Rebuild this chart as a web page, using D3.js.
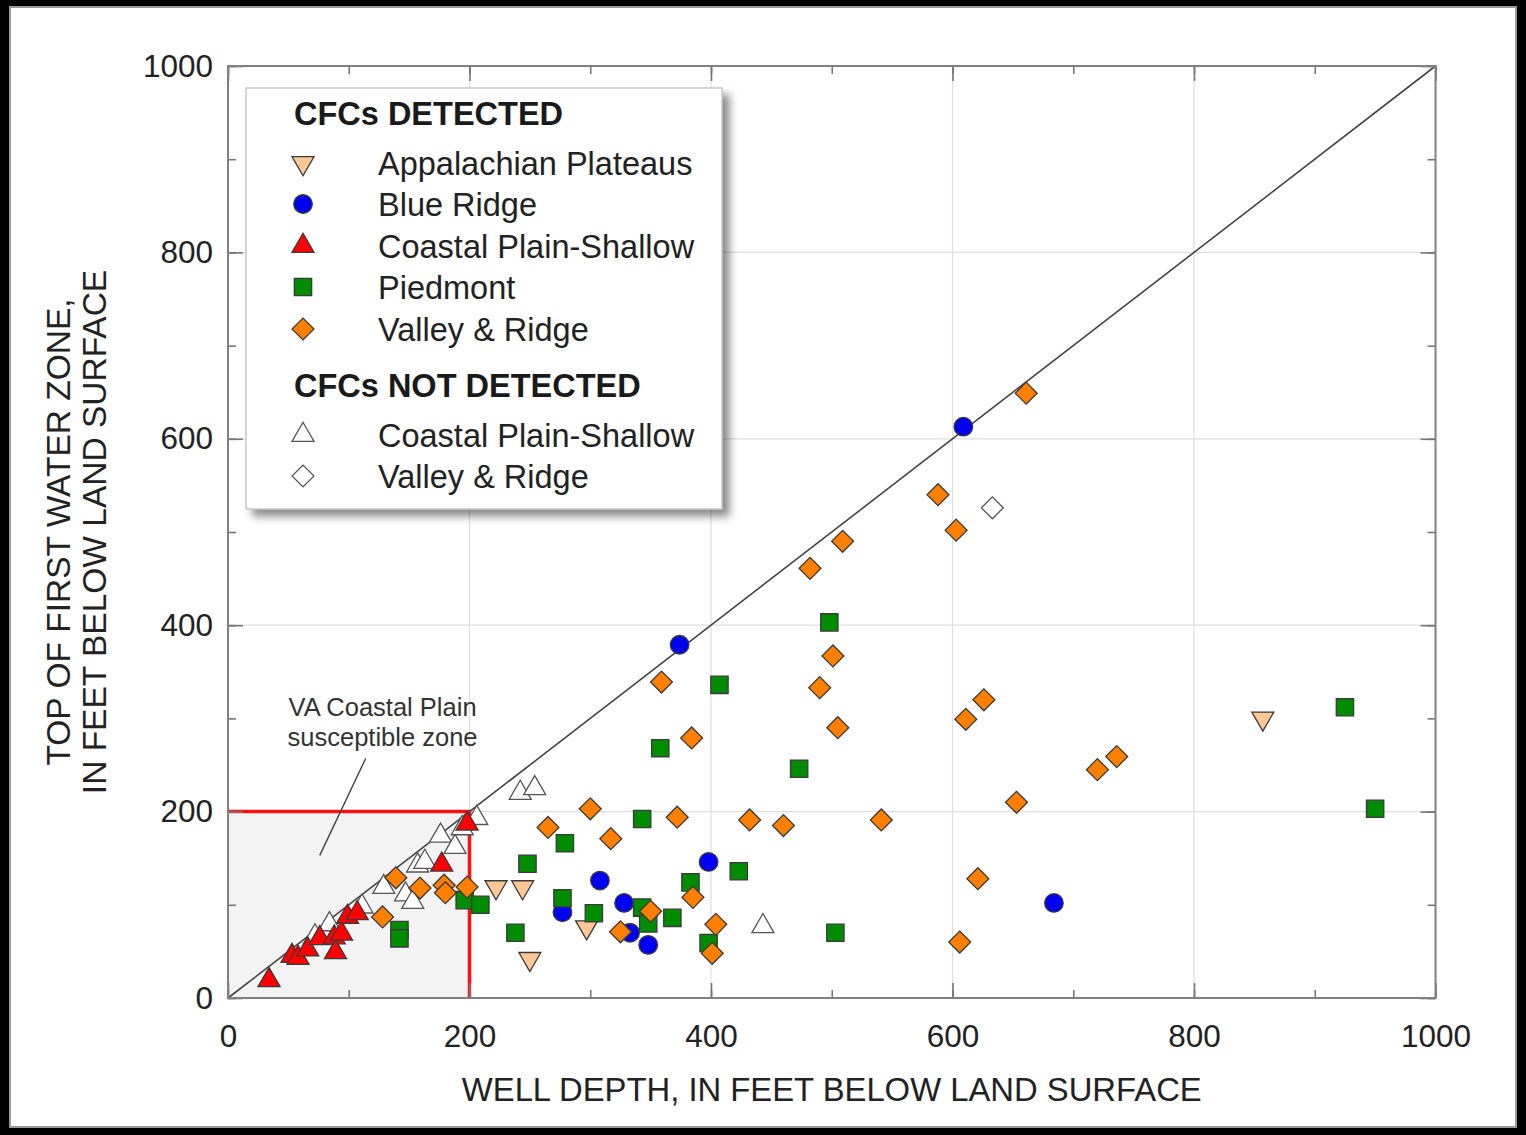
<!DOCTYPE html>
<html>
<head>
<meta charset="utf-8">
<script src="https://cdn.jsdelivr.net/npm/d3@7"></script>
<style>
  html, body { margin: 0; padding: 0; background: #000; }
  svg { display: block; font-family: "Liberation Sans", Arial, sans-serif; }
</style>
</head>
<body>
<svg id="chart"></svg>
<script>
// values: [well depth, top of first water zone]
var appalachian = [[222,119],[244,119],[297,76],[250,42],[857,300]];
var blueRidge = [[277,92],[308,126],[328,102],[333,70],[348,57],[374,379],[398,146],[609,613],[684,102]];
var coastalDet = [[34,19],[53,45],[58,43],[66,52],[76,64],[88,65],[89,49],[94,69],[99,87],[107,91],[177,143],[198,187]];
var piedmont = [[142,73],[142,64],[196,105],[209,100],[238,70],[248,144],[277,107],[279,166],[303,91],[343,192],[343,97],
                [348,80],[358,268],[368,86],[383,124],[398,59],[407,336],[423,136],[473,246],[498,403],[503,70],[925,312],[950,203]];
var valley = [[128,87],[139,129],[159,118],[179,121],[180,113],[198,119],[265,183],[300,203],[317,171],[325,71],[350,93],
              [359,339],[372,194],[384,279],[385,108],[401,48],[404,79],[432,191],[460,185],[482,461],[490,333],[501,367],
              [505,290],[509,490],[541,191],[588,540],[603,502],[606,60],[611,299],[621,128],[626,320],[653,210],[661,649],
              [720,245],[736,259]];
var coastalND = [[72,66],[84,79],[111,98],[129,119],[147,111],[153,103],[157,142],[163,146],[176,174],[188,162],
                 [194,182],[206,193],[242,220],[254,225],[443,77]];
var valleyND = [[633,526]];

var tickValues = [0,200,400,600,800,1000];
var zoneLimit = 200;

var W = 1526, H = 1135;
var margin = {top: 66, right: 90.5, bottom: 137, left: 228},
    width = W - margin.left - margin.right,
    height = H - margin.top - margin.bottom;

var svg = d3.select("#chart").attr("width", W).attr("height", H);

var defs = svg.append("defs");
var f = defs.append("filter").attr("id", "shadow")
    .attr("x", "-5%").attr("y", "-5%").attr("width", "115%").attr("height", "115%");
f.append("feDropShadow").attr("dx", 7).attr("dy", 7).attr("stdDeviation", 4)
    .attr("flood-color", "#000").attr("flood-opacity", 0.45);

// white panel
svg.append("rect").attr("x", 10).attr("y", 7).attr("width", 1506).attr("height", 1120)
    .attr("fill", "#fff").attr("stroke", "#9a9a9a").attr("stroke-width", 2);

var g = svg.append("g").attr("transform", "translate(" + margin.left + "," + margin.top + ")");

var x = d3.scaleLinear().domain([0, 1000]).range([0, width]);
var y = d3.scaleLinear().domain([0, 1000]).range([height, 0]);

// shaded susceptible zone
g.append("rect")
    .attr("x", x(0)).attr("y", y(zoneLimit))
    .attr("width", x(zoneLimit) - x(0)).attr("height", y(0) - y(zoneLimit))
    .attr("fill", "#f3f3f3");

// grid
g.append("g").selectAll("line").data(tickValues.slice(1, -1)).join("line")
    .attr("x1", d => x(d)).attr("x2", d => x(d)).attr("y1", 0).attr("y2", height)
    .attr("stroke", "#dedede").attr("stroke-width", 1.2);
g.append("g").selectAll("line").data(tickValues.slice(1, -1)).join("line")
    .attr("y1", d => y(d)).attr("y2", d => y(d)).attr("x1", 0).attr("x2", width)
    .attr("stroke", "#dedede").attr("stroke-width", 1.2);

// red zone outline
g.append("path")
    .attr("d", "M" + x(0) + "," + y(zoneLimit) + "H" + x(zoneLimit) + "V" + y(0))
    .attr("fill", "none").attr("stroke", "#ff1010").attr("stroke-width", 3.5);

// 1:1 line
g.append("line")
    .attr("x1", x(0)).attr("y1", y(0)).attr("x2", x(1000)).attr("y2", y(1000))
    .attr("stroke", "#444").attr("stroke-width", 1.6);

// axes with inward ticks
function styleAxis(sel) {
  sel.select(".domain").remove();
  sel.selectAll(".tick line").attr("stroke", "#777").attr("stroke-width", 1.6);
  sel.selectAll("text").attr("fill", "#222").style("font-size", "31.5px");
}
var fmt = d3.format("d");
var minor = d3.range(0, 1001, 100);
g.append("g").attr("transform", "translate(0," + height + ")")
    .call(d3.axisBottom(x).tickValues(minor).tickSize(-8).tickFormat(""))
    .call(styleAxis);
g.append("g").attr("transform", "translate(0," + height + ")")
    .call(d3.axisBottom(x).tickValues(tickValues).tickSize(-15).tickPadding(27).tickFormat(fmt))
    .call(styleAxis);
g.append("g").call(d3.axisTop(x).tickValues(minor).tickSize(-8).tickFormat("")).call(styleAxis);
g.append("g").call(d3.axisTop(x).tickValues(tickValues).tickSize(-15).tickFormat("")).call(styleAxis);
g.append("g").call(d3.axisLeft(y).tickValues(minor).tickSize(-8).tickFormat("")).call(styleAxis);
g.append("g").call(d3.axisLeft(y).tickValues(tickValues).tickSize(-15).tickPadding(15).tickFormat(fmt)).call(styleAxis);
g.append("g").attr("transform", "translate(" + width + ",0)")
    .call(d3.axisRight(y).tickValues(minor).tickSize(-8).tickFormat("")).call(styleAxis);
g.append("g").attr("transform", "translate(" + width + ",0)")
    .call(d3.axisRight(y).tickValues(tickValues).tickSize(-15).tickFormat("")).call(styleAxis);

g.append("rect").attr("width", width).attr("height", height)
    .attr("fill", "none").attr("stroke", "#808080").attr("stroke-width", 2);

// series
var series = [
  {data: coastalND, type: d3.symbolTriangle, size: 210, fill: "#fff", rot: 0},
  {data: valleyND, type: d3.symbolSquare, size: 240, fill: "#fff", rot: 45},
  {data: appalachian, type: d3.symbolTriangle, size: 210, fill: "#fdc896", rot: 180},
  {data: blueRidge, type: d3.symbolCircle, size: 270, fill: "#0000f0", rot: 0},
  {data: coastalDet, type: d3.symbolTriangle, size: 210, fill: "#ff0000", rot: 0},
  {data: piedmont, type: d3.symbolSquare, size: 300, fill: "#008c00", rot: 0},
  {data: valley, type: d3.symbolSquare, size: 240, fill: "#ff8000", rot: 45}
];
series.forEach(function(s) {
  g.append("g").selectAll("path").data(s.data).join("path")
    .attr("d", d3.symbol().type(s.type).size(s.size))
    .attr("transform", d => "translate(" + x(d[0]) + "," + y(d[1]) + ") rotate(" + s.rot + ")")
    .attr("fill", s.fill)
    .attr("stroke", s.fill === "#fff" ? "#555" : "#3a3a3a")
    .attr("stroke-width", 1.3);
});

// annotation
var ann = g.append("text").attr("fill", "#333").style("font-size", "25.5px").attr("text-anchor", "middle");
ann.append("tspan").attr("x", x(128)).attr("y", y(303)).text("VA Coastal Plain");
ann.append("tspan").attr("x", x(128)).attr("y", y(270)).text("susceptible zone");
g.append("line")
    .attr("x1", x(114)).attr("y1", y(257)).attr("x2", x(76)).attr("y2", y(153))
    .attr("stroke", "#444").attr("stroke-width", 1.4);

// axis titles
svg.append("text").attr("x", margin.left + width / 2).attr("y", 1101)
    .attr("text-anchor", "middle").attr("fill", "#222").style("font-size", "32.8px")
    .text("WELL DEPTH, IN FEET BELOW LAND SURFACE");
var yt = svg.append("text").attr("transform", "translate(0," + (margin.top + height / 2) + ") rotate(-90)")
    .attr("text-anchor", "middle").attr("fill", "#222").style("font-size", "33.5px");
yt.append("tspan").attr("x", 0).attr("y", 70).text("TOP OF FIRST WATER ZONE,");
yt.append("tspan").attr("x", 0).attr("y", 106).text("IN FEET BELOW LAND SURFACE");

// legend
var lg = svg.append("g").attr("transform", "translate(246,88)");
lg.append("rect").attr("width", 476).attr("height", 421)
    .attr("fill", "#fff").attr("stroke", "#bbb").attr("stroke-width", 1.2)
    .attr("filter", "url(#shadow)");
var legendRows = [
  {head: "CFCs DETECTED", y: 25},
  {label: "Appalachian Plateaus", s: series[2], y: 75},
  {label: "Blue Ridge", s: series[3], y: 116},
  {label: "Coastal Plain-Shallow", s: series[4], y: 158},
  {label: "Piedmont", s: series[5], y: 199},
  {label: "Valley & Ridge", s: series[6], y: 241},
  {head: "CFCs NOT DETECTED", y: 297},
  {label: "Coastal Plain-Shallow", s: series[0], y: 347},
  {label: "Valley & Ridge", s: series[1], y: 388}
];
legendRows.forEach(function(r) {
  if (r.head) {
    lg.append("text").attr("x", 48).attr("y", r.y).attr("dy", "0.36em")
      .attr("fill", "#1a1a1a").style("font-size", "32.5px").style("font-weight", "bold").text(r.head);
  } else {
    lg.append("path").attr("d", d3.symbol().type(r.s.type).size(r.s.size))
      .attr("transform", "translate(57," + r.y + ") rotate(" + r.s.rot + ")")
      .attr("fill", r.s.fill).attr("stroke", r.s.fill === "#fff" ? "#555" : "#3a3a3a").attr("stroke-width", 1.3);
    lg.append("text").attr("x", 132).attr("y", r.y).attr("dy", "0.36em")
      .attr("fill", "#222").style("font-size", "32.5px").text(r.label);
  }
});
</script>
</body>
</html>
